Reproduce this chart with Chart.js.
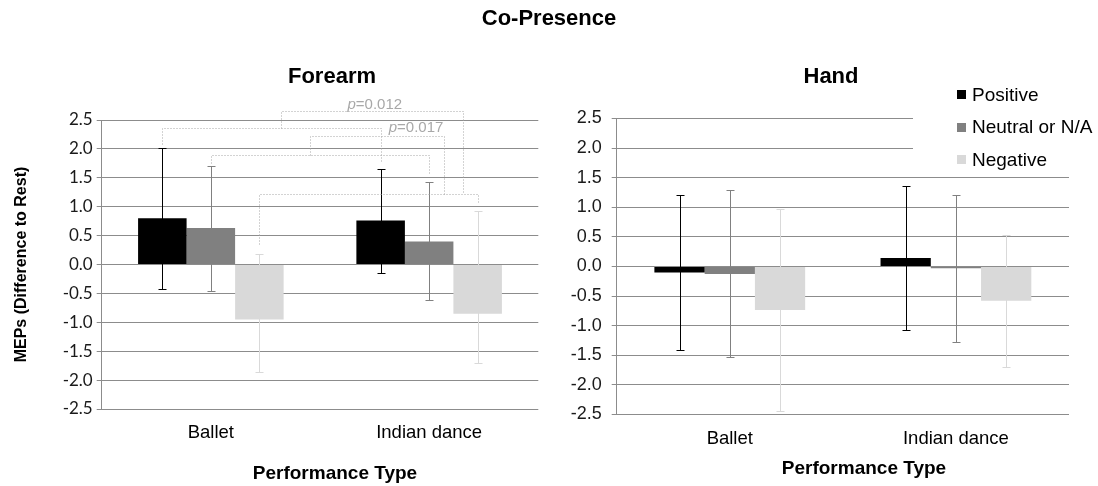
<!DOCTYPE html>
<html>
<head>
<meta charset="utf-8">
<script src="https://cdn.jsdelivr.net/npm/chart.js@4.4.1/dist/chart.umd.min.js"></script>
<style>
  html, body { margin: 0; padding: 0; background: #fff; }
  #page { position: relative; width: 1098px; height: 486px; overflow: hidden;
          font-family: "Liberation Sans", Arial, sans-serif; }
  .ttl { position: absolute; font-weight: bold; color: #000; white-space: nowrap;
         transform: translate(-50%, -50%); line-height: 1; }
  #mainTitle { left: 549px; top: 18px; font-size: 22px; }
  #forearmTitle { left: 332px; top: 76px; font-size: 22px; }
  #handTitle { left: 831px; top: 76px; font-size: 22px; }
  #xTitleA { left: 335px; top: 472px; font-size: 19px; }
  #xTitleB { left: 864px; top: 467px; font-size: 19px; }
  #wrapA { position: absolute; left: 0; top: 0; width: 560px; height: 486px; }
  #wrapB { position: absolute; left: 550px; top: 0; width: 548px; height: 486px; }
</style>
</head>
<body>
<div id="page">
  <div id="wrapA"><canvas id="chartA" width="560" height="486"></canvas></div>
  <div id="wrapB"><canvas id="chartB" width="548" height="486"></canvas></div>
  <div class="ttl" id="mainTitle">Co-Presence</div>
  <div class="ttl" id="forearmTitle">Forearm</div>
  <div class="ttl" id="handTitle">Hand</div>
  <div class="ttl" id="xTitleA">Performance Type</div>
  <div class="ttl" id="xTitleB">Performance Type</div>
</div>
<script>
// Categories and series
const categories = ["Ballet", "Indian dance"];
const seriesNames = ["Positive", "Neutral or N/A", "Negative"];
const seriesColors = ["#000000", "#808080", "#d9d9d9"];

// Forearm: mean MEP change and error bar extents (above / below the mean)
const forearmPositive = [0.80, 0.76];
const forearmNeutral  = [0.63, 0.40];
const forearmNegative = [-0.95, -0.85];
const forearmPositiveErrUp   = [1.22, 0.90];
const forearmPositiveErrDown = [1.22, 0.90];
const forearmNeutralErrUp    = [1.08, 1.02];
const forearmNeutralErrDown  = [1.08, 1.02];
const forearmNegativeErrUp   = [1.13, 1.78];
const forearmNegativeErrDown = [0.91, 0.86];

// Hand
const handPositive = [-0.10, 0.145];
const handNeutral  = [-0.125, -0.03];
const handNegative = [-0.735, -0.58];
const handPositiveErrUp   = [1.31, 1.21];
const handPositiveErrDown = [1.31, 1.21];
const handNeutralErrUp    = [1.41, 1.24];
const handNeutralErrDown  = [1.41, 1.24];
const handNegativeErrUp   = [1.71, 1.12];
const handNegativeErrDown = [1.71, 1.12];

// Y axis range and tick step
const yMin = -2.5, yMax = 2.5, yStep = 0.5;

// Forearm comparison brackets: [category, series] ends, bracket level and leg ends (data units)
const forearmBrackets = [
  { a: [0, 0], b: [1, 0], level: 2.37, legA: 2.08, legB: 1.75 },
  { a: [0, 1], b: [1, 1], level: 1.89, legA: 1.76, legB: 1.55 },
  { a: [0, 2], b: [1, 2], level: 1.22, legA: 0.35, legB: 1.06 }
];
// Links between brackets with their p-values
const forearmLinks = [
  { from: 0, stubAt: 0.544, top: 2.66, to: 2, end: [1, 2, -0.305], label: "0.012", labelAt: [1, 0, -0.12], labelY: 2.77 },
  { from: 1, stubAt: 0.454, top: 2.22, to: 2, end: [1, 1, 0.297],  label: "0.017", labelAt: [1, 1, -0.27], labelY: 2.37 }
];

function makeDatasets(values, up, down) {
  return values.map((v, i) => ({
    label: seriesNames[i],
    data: v,
    backgroundColor: seriesColors[i],
    borderWidth: 0,
    errUp: up[i],
    errDown: down[i],
    errColor: seriesColors[i],
    categoryPercentage: 0.6667,
    barPercentage: 1.0
  }));
}

// Error bars drawn from each bar element through the y scale
const errorBarPlugin = {
  id: "errorBars",
  afterDatasetsDraw(chart) {
    const ctx = chart.ctx;
    const y = chart.scales.y;
    chart.data.datasets.forEach((ds, di) => {
      const meta = chart.getDatasetMeta(di);
      meta.data.forEach((bar, i) => {
        const v = ds.data[i];
        const yt = Math.round(y.getPixelForValue(v + ds.errUp[i])) + 0.5;
        const yb = Math.round(y.getPixelForValue(v - ds.errDown[i])) + 0.5;
        const x = Math.round(bar.x) + 0.5;
        ctx.save();
        ctx.strokeStyle = ds.errColor;
        ctx.lineWidth = 1;
        ctx.beginPath();
        ctx.moveTo(x, yt); ctx.lineTo(x, yb);
        ctx.moveTo(x - 4, yt); ctx.lineTo(x + 4, yt);
        ctx.moveTo(x - 4, yb); ctx.lineTo(x + 4, yb);
        ctx.stroke();
        ctx.restore();
      });
    });
  }
};

// Dotted significance brackets on the forearm panel
const bracketPlugin = {
  id: "brackets",
  afterDraw(chart, args, opts) {
    if (!opts || !opts.brackets) return;
    const ctx = chart.ctx;
    const y = chart.scales.y;
    const barX = (cat, ser, off) => {
      const el = chart.getDatasetMeta(ser).data[cat];
      return el.x + (off || 0) * el.width;
    };
    const px = v => Math.round(v) + 0.5;
    ctx.save();
    ctx.strokeStyle = "#a6a6a6";
    ctx.lineWidth = 1;
    ctx.setLineDash([1, 2]);
    const geo = opts.brackets.map(b => {
      const xa = barX(b.a[0], b.a[1]), xb = barX(b.b[0], b.b[1]);
      const yl = y.getPixelForValue(b.level);
      ctx.beginPath();
      ctx.moveTo(px(xa), px(y.getPixelForValue(b.legA)));
      ctx.lineTo(px(xa), px(yl));
      ctx.lineTo(px(xb), px(yl));
      ctx.lineTo(px(xb), px(y.getPixelForValue(b.legB)));
      ctx.stroke();
      return { xa, xb, yl };
    });
    opts.links.forEach(l => {
      const g = geo[l.from];
      const xs = g.xa + (g.xb - g.xa) * l.stubAt;
      const yt = y.getPixelForValue(l.top);
      const xe = barX(l.end[0], l.end[1], l.end[2]);
      const ye = geo[l.to].yl;
      ctx.beginPath();
      ctx.moveTo(px(xs), px(g.yl));
      ctx.lineTo(px(xs), px(yt));
      ctx.lineTo(px(xe), px(yt));
      ctx.lineTo(px(xe), px(ye));
      ctx.stroke();
    });
    ctx.setLineDash([]);
    ctx.fillStyle = "#a8a8a8";
    ctx.textBaseline = "middle";
    opts.links.forEach(l => {
      const cx = barX(l.labelAt[0], l.labelAt[1], l.labelAt[2]);
      const cy = y.getPixelForValue(l.labelY);
      const fi = "italic 15px 'Liberation Sans', Arial, sans-serif";
      const fn = "15px 'Liberation Sans', Arial, sans-serif";
      ctx.font = fi; const w1 = ctx.measureText("p").width;
      ctx.font = fn; const w2 = ctx.measureText("=" + l.label).width;
      const x0 = cx - (w1 + w2) / 2;
      ctx.font = fi; ctx.textAlign = "left"; ctx.fillText("p", x0, cy);
      ctx.font = fn; ctx.fillText("=" + l.label, x0 + w1, cy);
    });
    ctx.restore();
  }
};

// Legend stacked in the top-right corner of the hand panel
const sideLegendPlugin = {
  id: "sideLegend",
  afterDraw(chart, args, opts) {
    if (!opts || !opts.show) return;
    const ctx = chart.ctx;
    ctx.save();
    ctx.fillStyle = "#ffffff";
    ctx.fillRect(opts.clearX, opts.clearY, chart.width - opts.clearX, opts.clearH);
    ctx.font = "19px 'Liberation Sans', Arial, sans-serif";
    ctx.textBaseline = "middle";
    ctx.textAlign = "left";
    chart.data.datasets.forEach((ds, i) => {
      const cy = opts.y + i * opts.rowGap;
      ctx.fillStyle = ds.backgroundColor;
      ctx.fillRect(opts.x, Math.round(cy - 4.5), 9, 9);
      ctx.fillStyle = "#000";
      ctx.fillText(ds.label, opts.x + 15, cy + 1);
    });
    ctx.restore();
  }
};

function makeChart(canvasId, datasets, cfg) {
  return new Chart(document.getElementById(canvasId), {
    type: "bar",
    data: { labels: categories, datasets },
    plugins: [errorBarPlugin, bracketPlugin, sideLegendPlugin],
    options: {
      responsive: false,
      animation: false,
      events: [],
      layout: { padding: { left: 0, right: cfg.padRight, top: cfg.padTop, bottom: 0 } },
      plugins: {
        legend: { display: false },
        tooltip: { enabled: false },
        title: { display: false },
        brackets: cfg.brackets || {},
        sideLegend: cfg.legend || {}
      },
      scales: {
        x: {
          grid: { display: false, drawTicks: false },
          border: { display: false },
          ticks: { color: "#000", padding: cfg.xTickPad, font: { family: "'Liberation Sans', Arial, sans-serif", size: 18.5 } },
          afterFit(s) { s.height = cfg.xHeight; }
        },
        y: {
          min: yMin, max: yMax,
          grid: { color: "#8c8c8c", lineWidth: 1, tickLength: 5, drawTicks: true },
          border: { display: true, color: "#8c8c8c" },
          ticks: {
            stepSize: yStep, color: "#1a1a1a", padding: cfg.tickPad,
            font: { family: cfg.tickFamily, size: cfg.tickSize },
            callback: v => Number(v).toFixed(1)
          },
          title: {
            display: cfg.yTitle, text: "MEPs (Difference to Rest)", color: "#000",
            font: { family: "'Liberation Sans', Arial, sans-serif", size: 16, weight: "bold" },
            padding: { top: 12, bottom: 0 }
          },
          afterFit(s) { s.width = cfg.yWidth; }
        }
      }
    }
  });
}

makeChart("chartA",
  makeDatasets([forearmPositive, forearmNeutral, forearmNegative],
               [forearmPositiveErrUp, forearmNeutralErrUp, forearmNegativeErrUp],
               [forearmPositiveErrDown, forearmNeutralErrDown, forearmNegativeErrDown]),
  { padRight: 21.7, padTop: 120, xHeight: 77, xTickPad: 13, yWidth: 101.7, tickPad: 4,
    tickFamily: "Lato, 'Liberation Sans', sans-serif", tickSize: 17, yTitle: true,
    brackets: { brackets: forearmBrackets, links: forearmLinks } });

makeChart("chartB",
  makeDatasets([handPositive, handNeutral, handNegative],
               [handPositiveErrUp, handNeutralErrUp, handNegativeErrUp],
               [handPositiveErrDown, handNeutralErrDown, handNegativeErrDown]),
  { padRight: 29, padTop: 118.5, xHeight: 71.5, xTickPad: 13, yWidth: 66.7, tickPad: 10,
    tickFamily: "'Liberation Sans', Arial, sans-serif", tickSize: 18, yTitle: false,
    legend: { show: true, clearX: 363, clearY: 84, clearH: 80, x: 407, y: 94.5, rowGap: 32.5 } });
</script>
</body>
</html>
